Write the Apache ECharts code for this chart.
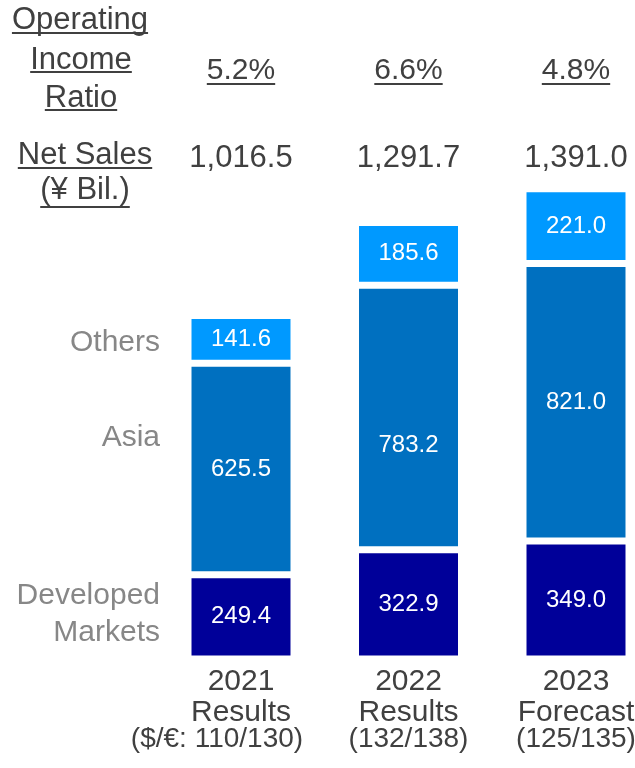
<!DOCTYPE html>
<html>
<head>
<meta charset="utf-8">
<script src="https://cdn.jsdelivr.net/npm/echarts@6/dist/echarts.min.js"></script>
<style>
  html, body { margin: 0; background: #fff; }
  #main { width: 635px; height: 768px; }
</style>
</head>
<body>
<div id="main"></div>
<script>
// data
var years = ['2021', '2022', '2023'];
var periods = ['Results', 'Results', 'Forecast'];
var fxRates = ['($/€: 110/130)', '(132/138)', '(125/135)'];
var incomeRatio = ['5.2%', '6.6%', '4.8%'];
var netSales = [1016.5, 1291.7, 1391.0];
var developed = [249.4, 322.9, 349.0];
var asia = [625.5, 783.2, 821.0];
var others = [141.6, 185.6, 221.0];

var FONT = 'Liberation Sans, Arial, sans-serif';
var DARK = '#404040';
var GREY = '#878787';

function fmt(v) {
    var s = v.toFixed(1).split('.');
    return s[0].replace(/\B(?=(\d{3})+(?!\d))/g, ',') + '.' + s[1];
}

var chart = echarts.init(document.getElementById('main'));

function seg(name, data, color) {
    return {
        name: name,
        type: 'bar',
        stack: 'sales',
        data: data,
        barWidth: 106,
        clip: false,
        itemStyle: { color: color, borderColor: '#fff', borderWidth: 3.5 },
        label: {
            show: true,
            position: 'inside',
            color: '#fff',
            fontFamily: FONT,
            fontSize: 24,
            formatter: function (p) { return p.value.toFixed(1); }
        }
    };
}

// the 2022 Asia label sits lower in the original
var asiaItems = asia.map(function (v, i) {
    return i === 1 ? { value: v, label: { offset: [0, 28] } } : v;
});

chart.setOption({
    animation: false,
    backgroundColor: '#fff',
    grid: { left: 241, right: 59, top: 152, bottom: 109, containLabel: false, outerBoundsMode: 'none' },
    xAxis: {
        type: 'category',
        data: years,
        boundaryGap: false,
        axisLine: { show: false },
        axisTick: { show: false },
        splitLine: { show: false },
        axisLabel: {
            margin: 7,
            interval: 0,
            formatter: function (v, i) {
                return '{y|' + v + '}\n{p|' + periods[i] + '}\n{' + (i === 0 ? 'c0' : 'c') + '|' + fxRates[i] + '}';
            },
            rich: {
                y: { fontFamily: FONT, fontSize: 30, color: DARK, lineHeight: 31 },
                p: { fontFamily: FONT, fontSize: 30, color: DARK, lineHeight: 31 },
                c: { fontFamily: FONT, fontSize: 28, color: DARK, lineHeight: 23 },
                c0: { fontFamily: FONT, fontSize: 28, color: DARK, lineHeight: 23, padding: [0, 48, 0, 0] }
            }
        }
    },
    yAxis: {
        type: 'value',
        min: 0,
        max: 1500,
        show: false
    },
    series: [
        seg('Developed Markets', developed, '#000099'),
        seg('Asia', asiaItems, '#0070C0'),
        seg('Others', others, '#0099FF')
    ]
});

// header texts and underlines
var ctx = document.createElement('canvas').getContext('2d');
function textW(t, size) {
    ctx.font = size + 'px ' + FONT;
    return ctx.measureText(t).width;
}

var els = [];
function addText(t, x, y, size, color, align, underline) {
    els.push({
        type: 'text',
        x: x, y: y,
        style: {
            text: t, fill: color, font: size + 'px ' + FONT,
            align: align || 'center', verticalAlign: 'middle'
        }
    });
    if (underline) {
        var w = textW(t, size);
        var x0 = align === 'right' ? x - w : x - w / 2;
        els.push({
            type: 'line',
            shape: { x1: x0, y1: underline, x2: x0 + w, y2: underline },
            style: { stroke: color, lineWidth: 2 }
        });
    }
}

addText('Operating', 80, 20, 31, DARK, 'center', 33);
addText('Income', 81, 60, 31, DARK, 'center', 72);
addText('Ratio', 81, 98, 31, DARK, 'center', 110);
addText('Net Sales', 85, 155, 31, DARK, 'center', 168);
addText('(¥ Bil.)', 85, 190, 31, DARK, 'center', 207);

years.forEach(function (y, i) {
    var x = chart.convertToPixel({ xAxisIndex: 0 }, i);
    addText(incomeRatio[i], x, 71, 30, DARK, 'center', 84);
    addText(fmt(netSales[i]), x, 158, 31, DARK, 'center');
});

addText('Others', 160, 343, 30, GREY, 'right');
addText('Asia', 160, 438, 30, GREY, 'right');
addText('Developed', 160, 596, 30, GREY, 'right');
addText('Markets', 160, 633, 30, GREY, 'right');

chart.setOption({ graphic: { elements: els } });
</script>
</body>
</html>
